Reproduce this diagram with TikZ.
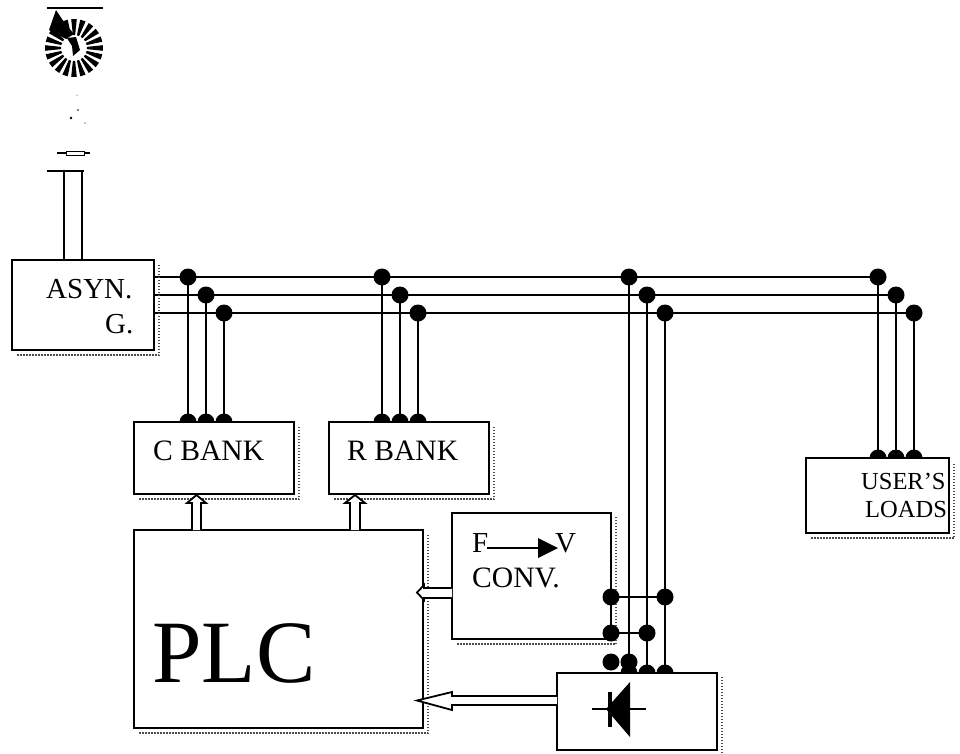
\documentclass[tikz,border=0pt]{standalone}
\usepackage{fontspec}
\setmainfont{Liberation Serif}
\usetikzlibrary{calc}
\tikzset{
 x=1pt,y=-1pt,
 wire/.style={line width=2pt,black},
 box/.style={draw=black,line width=2.2pt,fill=white,inner sep=0pt,rectangle,outer sep=0pt},
 shade line/.style={line width=2pt,black!70,dash pattern=on 1.5pt off 1.5pt},
 jdot/.style={circle,fill=black,draw=none,minimum size=17pt,inner sep=0pt},
 lbl/.style={anchor=base west,inner sep=0pt,font=\fontsize{29}{29}\selectfont},
 hollow/.style={draw=black,line width=1.8pt,fill=white,line join=miter},
}
\newcommand{\boxat}[5]{% name, x1,y1,x2,y2
 \draw[shade line] (#2+5,#5+5) -- (#4+5,#5+5) -- (#4+5,#3+4);
 \node[box,minimum width=#4-#2,minimum height=#5-#3] (#1) at ({(#2+#4)/2},{(#3+#5)/2}) {};
}
\begin{document}
\begin{tikzpicture}
\useasboundingbox (0,0) rectangle (960,753);
\fill[white] (0,0) rectangle (960,753);
% wind turbine
\coordinate (hub) at (74,48);
\coordinate (mastL) at (64,171);
\coordinate (mastR) at (82,171);
\draw[line width=1.5pt] (47,8) -- (103,8);
\foreach \a in {0,18,...,342}{
  \fill[black] ($(hub)+(\a-5:13)$) -- ($(hub)+(\a+5:13)$) -- ($(hub)+(\a+5.5:29)$) -- ($(hub)+(\a-5.5:29)$) -- cycle;
}
\fill[black] (56,10) -- (49,30) -- (66,39) -- (74,34) -- (64,22) -- cycle;
\fill[black] (67,38) -- (76,37) -- (80,50) -- (73,56) -- (72,46) -- cycle;
\fill[black] (71,118) circle (1.4);
\fill[black] (78,110) circle (.8);
\fill[black] (85,123) circle (.6);
\fill[black] (77,95) circle (.5);
\draw[line width=1.2pt] (57,153) -- (90,153);
\draw[line width=1pt,fill=white] (66,151) -- (84,151) -- (84,155) -- (66,155) -- cycle;
\draw[wire] (47,171) -- (84,171);

% junctions on the three-phase bus
\foreach \n/\x/\y in {a1/188/277,a2/206/295,a3/224/313,
                      b1/382/277,b2/400/295,b3/418/313,
                      c1/629/277,c2/647/295,c3/665/313,
                      d1/878/277,d2/896/295,d3/914/313,
                      e1/611/597,e3/665/597,f1/611/633,f2/647/633,
                      g0/611/662,g1/629/662}{
  \coordinate (\n) at (\x,\y);
}
% box anchor helpers
\coordinate (asynE) at (154,300);
\coordinate (cTop) at (214,422);
\coordinate (rTop) at (409,422);
\coordinate (uTop) at (878,458);
\coordinate (dTop) at (637,673);

% wires
\draw[wire] (a1 -| asynE) -- (d1);
\draw[wire] (a2 -| asynE) -- (d2);
\draw[wire] (a3 -| asynE) -- (d3);
\foreach \n in {a1,a2,a3}{
  \draw[wire] (\n) -- (\n |- cTop);
  \node[jdot] at (\n |- cTop) {};
  \node[jdot] at (\n) {};
}
\foreach \n in {b1,b2,b3}{
  \draw[wire] (\n) -- (\n |- rTop);
  \node[jdot] at (\n |- rTop) {};
  \node[jdot] at (\n) {};
}
\foreach \n in {d1,d2,d3}{
  \draw[wire] (\n) -- (\n |- uTop);
  \node[jdot] at (\n |- uTop) {};
  \node[jdot] at (\n) {};
}
\foreach \n in {c1,c2,c3}{
  \draw[wire] (\n) -- (\n |- dTop);
  \node[jdot] at (\n |- dTop) {};
  \node[jdot] at (\n) {};
}

% boxes
\boxat{asyn}{12}{260}{154}{350}
\boxat{cbank}{134}{422}{294}{494}
\boxat{rbank}{329}{422}{489}{494}
\boxat{plc}{134}{530}{423}{728}
\boxat{conv}{452}{513}{611}{639}
\boxat{rect}{557}{673}{717}{750}
\boxat{users}{806}{458}{949}{533}

% mast
\draw[wire] (mastL) -- (mastL |- asyn.north);
\draw[wire] (mastR) -- (mastR |- asyn.north);

% F-V and rectifier tap points
\draw[wire] (e1) -- (e3);
\draw[wire] (f1) -- (f2);
\foreach \n in {e1,e3,f1,f2,g0,g1}{\node[jdot] at (\n) {};}

% hollow arrows
\draw[hollow] (192,530) -- (192,503) -- (187,503) -- (196.5,495) -- (206,503) -- (201,503) -- (201,530);
\draw[hollow] (350,530) -- (350,503) -- (345,503) -- (355,495) -- (365,503) -- (360,503) -- (360,530);
\draw[hollow] (452,588) -- (424,588) -- (424,585) -- (417,592.5) -- (424,600) -- (424,598) -- (452,598);
\draw[hollow] (557,696) -- (452,696) -- (452,692) -- (417,700.5) -- (452,710) -- (452,705) -- (557,705);

% labels
\node[lbl] (tAsyn) at (46,298) {ASYN.};
\node[lbl] (tG) at (105,333) {G.};
\node[lbl,font=\fontsize{29.6}{30}\selectfont] (tC) at (153,460) {C BANK};
\node[lbl,font=\fontsize{29.6}{30}\selectfont] (tR) at (347,460) {R BANK};
\node[lbl,font=\fontsize{89}{89}\selectfont] (tPlc) at (152,682) {PLC};
\node[lbl] (tF) at (472,552) {F};
\node[lbl] (tV) at (555,552) {V};
\node[lbl,font=\fontsize{29.6}{30}\selectfont] (tConv) at (472,587) {CONV.};
\node[lbl,font=\fontsize{24.5}{25}\selectfont] (tU) at (861,489) {USER'S};
\node[lbl,font=\fontsize{24.5}{25}\selectfont] (tL) at (865,517) {LOADS};
\coordinate (fvA) at (487,548);
\coordinate (fvB) at (540,548);
\draw[line width=1.5pt] (fvA) -- (fvB);
\fill[black] (538,538) -- (558,548) -- (538,558) -- cycle;

% diode symbol
\coordinate (diodeL) at (592,709);
\coordinate (diodeR) at (646,709);
\draw[line width=2pt] (diodeL) -- (diodeR);
\fill[black] (630,682) -- (630,737) -- (606,709) -- cycle;
\draw[line width=3.5pt] (610,692) -- (610,727);
\end{tikzpicture}
\end{document}
